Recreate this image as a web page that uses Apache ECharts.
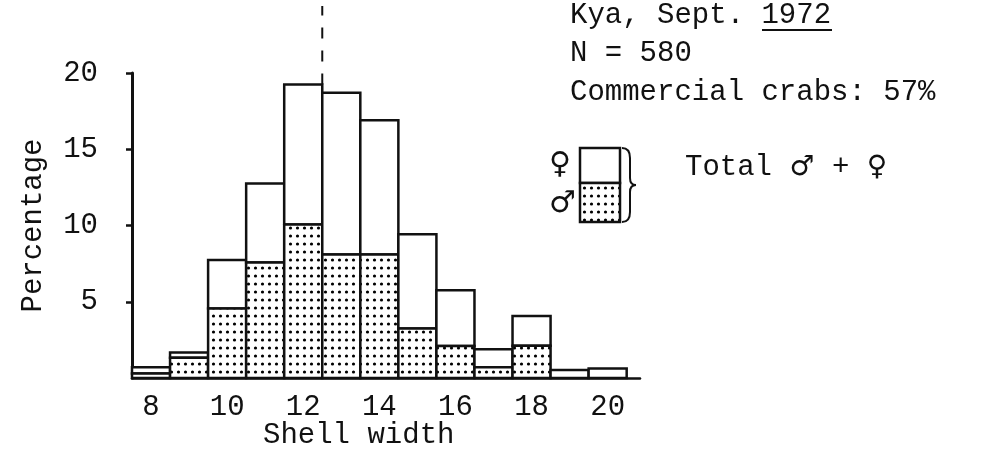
<!DOCTYPE html>
<html>
<head>
<meta charset="utf-8">
<script src="https://cdn.jsdelivr.net/npm/echarts@6/dist/echarts.min.js"></script>
<style>
html,body{margin:0;padding:0;background:#fff;}
#chart{width:983px;height:456px;}
</style>
</head>
<body>
<div id="chart"></div>
<script>
// Shell width classes (cm)
const shellWidth = [8, 9, 10, 11, 12, 13, 14, 15, 16, 17, 18, 19, 20];
// Percentage of males (dotted, lower part)
const malePct   = [0.3, 1.33, 4.56, 7.57, 10.06, 8.1, 8.1, 3.25, 2.1, 0.7, 2.12, 0, 0];
// Percentage of females (white, upper part)
const femalePct = [0.4, 0.35, 3.17, 5.18, 9.19, 10.6, 8.8, 6.18, 3.66, 1.18, 1.94, 0.52, 0.63];
// Commercial size limit (dashed line)
const commercialLimit = [[12.5, 19.25], [12.5, 24.4]];
const xTickLabels = [8, 10, 12, 14, 16, 18, 20];
const yTickLabels = [5, 10, 15, 20];

const FONT = 'Liberation Mono';
const INK = '#111';

// dotted pattern
const pc = document.createElement('canvas');
pc.width = 7; pc.height = 8;
const pctx = pc.getContext('2d');
pctx.fillStyle = '#fff'; pctx.fillRect(0, 0, 7, 8);
pctx.fillStyle = '#000';
pctx.beginPath(); pctx.arc(3.5, 4, 1.6, 0, Math.PI * 2); pctx.fill();
const dotPattern = {image: pc, repeat: 'repeat'};

const rows = shellWidth.map((w, i) => [w, malePct[i], femalePct[i]]);

const chart = echarts.init(document.getElementById('chart'), null, {renderer: 'canvas'});
const txt = (s, left, top, size) => ({
  text: s, left: left, top: top, padding: 0,
  textStyle: {fontFamily: FONT, fontSize: size || 29, fontWeight: 'normal', color: INK, lineHeight: size || 29,
    rich: {s: {fontFamily: 'DejaVu Sans', fontSize: 28, color: INK, lineHeight: 29}}}
});
const seg = (shape) => ({type: 'line', shape: shape, style: {stroke: INK, lineWidth: 2}});
const curve = (shape) => ({type: 'bezierCurve', shape: shape, style: {stroke: INK, lineWidth: 2, fill: null}});

chart.setOption({
  animation: false,
  backgroundColor: '#fff',
  title: [
    txt('Kya, Sept. 1972', 570, 1),
    txt('N = 580', 570, 39),
    txt('Commercial crabs: 57%', 570, 78),
    txt('Total {s|\u2642} + {s|\u2640}', 685, 153),
    txt('Shell width', 263, 421)
  ],
  grid: {left: 132, right: 343, top: 73, bottom: 78},
  xAxis: {
    type: 'value', min: 7.5, max: 20.85,
    axisLine: {show: true, onZero: false, lineStyle: {color: INK, width: 2.5}},
    axisTick: {show: false},
    splitLine: {show: false},
    axisLabel: {customValues: xTickLabels, margin: 15, fontFamily: FONT, fontSize: 29, color: INK}
  },
  yAxis: {
    type: 'value', min: 0, max: 20, interval: 5,
    name: 'Percentage', nameLocation: 'middle', nameGap: 84,
    nameTextStyle: {fontFamily: FONT, fontSize: 29, color: INK},
    axisLine: {show: true, lineStyle: {color: INK, width: 3}},
    axisTick: {show: true, customValues: yTickLabels, length: 6, lineStyle: {color: INK, width: 2.5}},
    splitLine: {show: false},
    axisLabel: {customValues: yTickLabels, margin: 34, fontFamily: FONT, fontSize: 29, color: INK}
  },
  series: [
    {
      type: 'custom',
      data: rows,
      encode: {x: 0, y: 1},
      renderItem: function (params, api) {
        const x = api.value(0), m = api.value(1), f = api.value(2);
        const p0 = api.coord([x - 0.5, 0]);
        const p1 = api.coord([x + 0.5, m]);
        const p2 = api.coord([x + 0.5, m + f]);
        const w = p1[0] - p0[0];
        const children = [];
        children.push({
          type: 'rect',
          shape: {x: p0[0], y: p2[1], width: w, height: p1[1] - p2[1]},
          style: {fill: '#fff', stroke: INK, lineWidth: 2.5}
        });
        if (m > 0) {
          children.push({
            type: 'rect',
            shape: {x: p0[0], y: p1[1], width: w, height: p0[1] - p1[1]},
            style: {fill: dotPattern, stroke: INK, lineWidth: 2.5}
          });
        }
        return {type: 'group', children: children};
      }
    },
    {
      type: 'line',
      data: commercialLimit,
      clip: false,
      symbol: 'none',
      lineStyle: {color: INK, width: 2, type: [11, 12]},
      z: 5
    }
  ],
  graphic: [
    // underline under year
    seg({x1: 762, y1: 30, x2: 832, y2: 30}),
    // legend swatch
    {type: 'rect', shape: {x: 580, y: 148, width: 40, height: 35}, style: {fill: '#fff', stroke: INK, lineWidth: 2.5}},
    {type: 'rect', shape: {x: 580, y: 183, width: 40, height: 39}, style: {fill: dotPattern, stroke: INK, lineWidth: 2.5}},
    {type: 'text', x: 549, y: 150, style: {text: '\u2640', font: '30px "DejaVu Sans"', fill: INK}},
    {type: 'text', x: 549, y: 189, style: {text: '\u2642', font: '30px "DejaVu Sans"', fill: INK}},
    // brace
    curve({x1: 622, y1: 148, cpx1: 630, cpy1: 148, x2: 630, y2: 158}),
    seg({x1: 630, y1: 158, x2: 630, y2: 178}),
    curve({x1: 630, y1: 178, cpx1: 630, cpy1: 185, x2: 636, y2: 185}),
    curve({x1: 636, y1: 185, cpx1: 630, cpy1: 185, x2: 630, y2: 192}),
    seg({x1: 630, y1: 192, x2: 630, y2: 212}),
    curve({x1: 630, y1: 212, cpx1: 630, cpy1: 222, x2: 622, y2: 222})
  ]
});
</script>
</body>
</html>
